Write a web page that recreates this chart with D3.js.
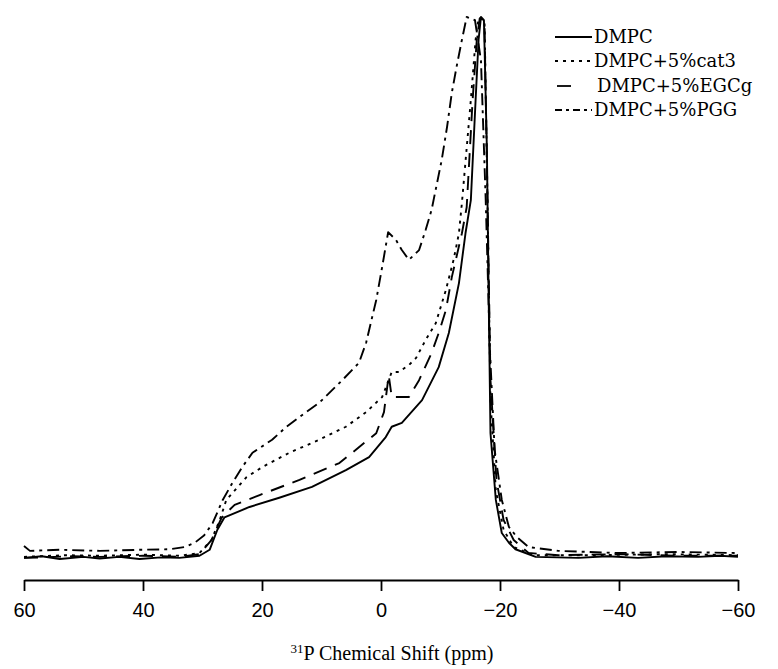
<!DOCTYPE html>
<html>
<head>
<meta charset="utf-8">
<script src="https://cdn.jsdelivr.net/npm/d3@7/dist/d3.min.js"></script>
<style>
  html, body { margin: 0; padding: 0; background: #fff; }
  svg { display: block; }
</style>
</head>
<body>
<svg id="chart" width="778" height="669"></svg>
<script>
// ---- data: [chemical shift (ppm), relative intensity (%)] ----
const seriesNames = ["DMPC", "DMPC+5%cat3", "DMPC+5%EGCg", "DMPC+5%PGG"];

const dmpc = [
  [60,0.2],[57,0.5],[54,0],[50,0.4],[47.3,0.1],[44,0.4],[40.6,0],[37,0.3],[33.9,0.2],
  [30.5,0.6],[28.8,1.7],[27.5,5.4],[26.3,7.7],[22.1,9.6],[17.1,11.3],[11.6,13.3],
  [5.9,16.4],[2.0,18.8],[-0.8,22.5],[-1.8,24.4],[-3.5,25.1],[-6.9,29.3],[-9.7,35.4],
  [-11.4,41.7],[-13.1,50.9],[-14.2,60.1],[-15.1,66.2],[-15.9,84.7],[-16.4,95.8],
  [-16.8,100],[-17.3,99.4],[-17.8,75.5],[-18.1,47.8],[-18.4,23.2],[-19.3,10.9],
  [-20.3,4.8],[-21.5,3.0],[-22.6,1.8],[-26.0,0.4],[-33.2,0.2],[-38,0.5],[-43.2,0.2],
  [-48,0.5],[-53.3,0.4],[-57,0.6],[-60,0.4]
];

const cat3 = [
  [60,0.4],[53,0.7],[47.3,0.6],[40,0.8],[33.9,0.6],[30.5,1.1],[28.5,3.5],[27.1,7.2],
  [26.0,10.9],[22.6,15.1],[19.9,17.0],[15.4,19.6],[10.4,22.0],[5.9,24.4],[2.5,27.1],
  [-0.2,29.9],[-1.3,33.0],[-1.8,34.5],[-3.0,34.5],[-4.7,35.8],[-5.9,37.1],[-7.5,40.4],
  [-9.2,43.5],[-10.9,49.6],[-12.2,55.2],[-13.1,60.1],[-13.6,65.7],[-15.1,84.7],
  [-15.9,95.8],[-16.4,99.8],[-17.4,99.4],[-17.9,66.2],[-18.4,29.3],[-19.3,12.7],
  [-20.6,5.4],[-22.3,2.2],[-25.6,0.7],[-36.5,0.7],[-48,0.9],[-60,0.7]
];

const egcg = [
  [60,0.2],[52,0.5],[47.3,0.4],[40,0.6],[33.9,0.4],[30.5,0.9],[28.5,3.5],[26.8,7.6],
  [24.6,10.0],[20.4,11.8],[13.7,14.6],[7.0,17.7],[0.8,23.2],[-0.5,27.1],[-1.3,33.9],
  [-1.8,29.9],[-4.7,29.9],[-6.4,33.0],[-8.5,38.0],[-9.7,41.7],[-10.9,45.9],[-11.9,52.0],
  [-13.6,60.1],[-14.4,64.9],[-15.4,84.7],[-16.1,95.8],[-16.6,99.8],[-17.4,98.5],
  [-17.9,66.2],[-18.4,33.0],[-19.4,14.6],[-20.6,7.2],[-22.3,3.5],[-24.8,1.1],
  [-29.8,0.7],[-40,0.9],[-50,0.6],[-60,0.6]
];

const pgg = [
  [60,2.4],[59,1.5],[54,1.7],[47.3,1.5],[40.6,1.7],[35.5,1.8],[33.0,2.2],[31.3,3.0],
  [29.7,4.4],[28.3,6.6],[26.6,10.9],[25.0,14.0],[23.3,17.0],[21.6,19.6],[18.3,22.0],
  [15.9,24.4],[13.7,26.2],[10.4,28.8],[6.5,33.0],[3.7,36.2],[2.5,39.9],[0.8,47.8],
  [-0.2,53.9],[-1.2,60.3],[-2.5,58.9],[-3.5,57.0],[-4.7,55.2],[-6.4,57.0],[-7.5,60.7],
  [-8.5,64.4],[-10.2,73.6],[-11.1,79.7],[-11.9,86.0],[-12.7,90.8],[-13.6,95.8],
  [-14.4,100],[-15.8,99.4],[-16.8,92.0],[-17.6,66.2],[-18.3,38.6],[-19.1,20.1],
  [-20.3,10.9],[-21.5,5.9],[-22.8,4.1],[-24.8,2.2],[-29.8,1.5],[-39.9,1.1],
  [-49.9,1.3],[-60,1.1]
];

const tickValues = [60, 40, 20, 0, -20, -40, -60];
const xTitleSup = "31";
const xTitleMain = "P Chemical Shift (ppm)";

// ---- drawing ----
const svg = d3.select("#chart");
const x = d3.scaleLinear().domain([60, -60]).range([24, 738]);
const y = d3.scaleLinear().domain([0, 100]).range([559, 17]);

const styles = [
  { dash: null },
  { dash: "3,5" },
  { dash: "14,9" },
  { dash: "12,5,3,5" }
];

const line = d3.line().x(d => x(d[0])).y(d => y(d[1])).curve(d3.curveLinear);

const allSeries = [dmpc, cat3, egcg, pgg];
svg.append("g").selectAll("path")
  .data(allSeries)
  .join("path")
  .attr("d", d => line(d))
  .attr("fill", "none")
  .attr("stroke", "#000")
  .attr("stroke-width", 1.9)
  .attr("stroke-linejoin", "round")
  .attr("stroke-dasharray", (d, i) => styles[i].dash);

// x axis
const axis = d3.axisBottom(x).tickValues(tickValues).tickSize(11).tickSizeOuter(0).tickPadding(12)
  .tickFormat(d3.format("d"));
const gx = svg.append("g").attr("transform", "translate(0,580)").call(axis);
gx.select(".domain").attr("stroke", "#000").attr("stroke-width", 2.2);
gx.selectAll(".tick line").attr("stroke", "#000").attr("stroke-width", 1.8);
gx.selectAll(".tick text")
  .attr("fill", "#000")
  .style("font-family", "'Liberation Sans Narrow', 'Arial Narrow', 'Liberation Sans', sans-serif")
  .style("font-size", "20px");

// x title
const title = svg.append("text")
  .attr("x", 392).attr("y", 660)
  .attr("text-anchor", "middle")
  .style("font-family", "'Liberation Serif', 'Times New Roman', serif")
  .style("font-size", "20px")
  .attr("fill", "#000");
title.append("tspan").attr("dy", "-7").style("font-size", "13px").text(xTitleSup);
title.append("tspan").attr("dy", "7").text(xTitleMain);

// legend
const legendRows = [37, 61, 86, 110];
const lg = svg.append("g");
seriesNames.forEach((name, i) => {
  const yy = legendRows[i];
  let x1 = 555, x2 = 592;
  if (i === 2) { x1 = 557; x2 = 573; }
  lg.append("line")
    .attr("x1", x1).attr("x2", x2).attr("y1", yy).attr("y2", yy)
    .attr("stroke", "#000").attr("stroke-width", 1.8)
    .attr("stroke-dasharray", i === 3 ? "7,4,3,4" : styles[i].dash);
  lg.append("text")
    .attr("x", i === 2 ? 597 : 594).attr("y", yy + 6)
    .style("font-family", "'DejaVu Serif', serif")
    .style("font-size", "18px")
    .attr("fill", "#000")
    .text(name);
});
</script>
</body>
</html>
